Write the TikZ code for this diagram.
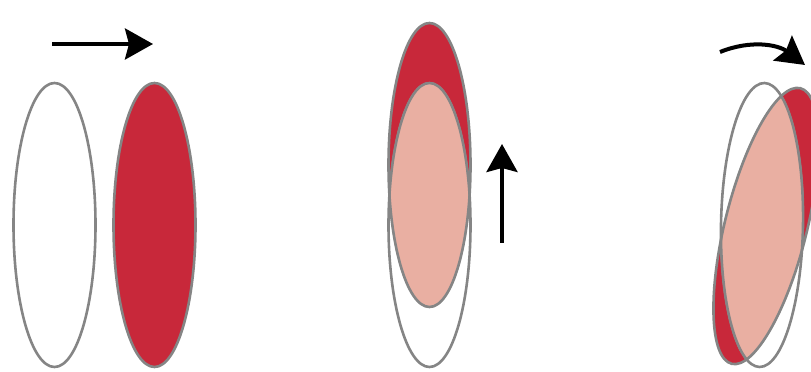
\documentclass[tikz,border=0pt]{standalone}
\definecolor{cellred}{HTML}{C8283A}
\definecolor{cellpink}{HTML}{E9AFA2}
\definecolor{rimgray}{HTML}{858585}
\definecolor{seamgray}{HTML}{C2BDBD}
\usepackage{tikz}
\usetikzlibrary{arrows.meta}

% #1 = resting outline, #2 = displaced cell
\newcommand{\overlapcells}[2]{%
  \fill[cellred] #2;
  \begin{scope}
    \clip #1;
    \fill[cellpink] #2;
    \draw[seamline] #2;
  \end{scope}
  \begin{scope}
    \clip #2;
    \draw[seamline] #1;
  \end{scope}
  \begin{scope}
    \clip #2 (0,372) rectangle (811,0);
    \draw[rimline] #1;
  \end{scope}
  \begin{scope}
    \clip #1 (0,372) rectangle (811,0);
    \draw[rimline] #2;
  \end{scope}%
}

\begin{document}
\begin{tikzpicture}[x=1pt, y=1pt, x radius=41, y radius=142,
    rimline/.style={draw=rimgray, line width=2.6pt},
    seamline/.style={draw=seamgray, line width=1.8pt},
    motion/.style={line width=4pt,
      -{Stealth[length=28pt, width=31pt, inset=4pt]}}]
    \useasboundingbox (0,0) rectangle (811,372);
    \clip (0,0) rectangle (811,372);

    \draw[rimline] (54.5,147) ellipse [];
    \draw[rimline, fill=cellred] (154.5,147) ellipse [];
    \coordinate (slideA) at (52,328);
    \coordinate (slideB) at (153,328);
    \draw[motion] (slideA) -- (slideB);

    \overlapcells{(429.5,147) ellipse []}{(429.5,207) ellipse []}
    \coordinate (liftA) at (502,129);
    \coordinate (liftB) at (502,228);
    \draw[motion] (liftA) -- (liftB);

    \overlapcells{(762,147) ellipse [rotate=-1]}{(766,146) ellipse [rotate=-14]}
    \coordinate (turnA) at (720,320);
    \coordinate (turnB) at (805,307);
    \draw[motion] (turnA) to[out=22, in=143] (turnB);
\end{tikzpicture}
\end{document}
